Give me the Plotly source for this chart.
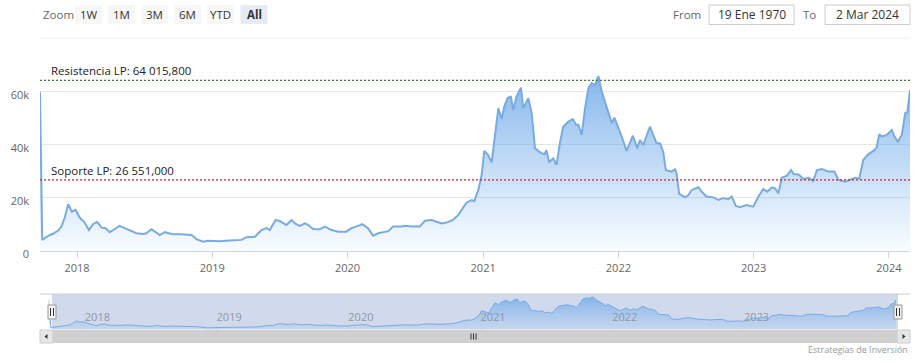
import plotly.graph_objects as go

# ---------------- data ----------------
dates = [
    "2017-09-23", "2017-09-29", "2017-10-15", "2017-10-28", "2017-11-11", "2017-11-20", "2017-11-29",
    "2017-12-08", "2017-12-18", "2017-12-28", "2018-01-08", "2018-01-20", "2018-02-02", "2018-02-13",
    "2018-02-24", "2018-03-08", "2018-03-19", "2018-03-30", "2018-04-13", "2018-04-26", "2018-05-10",
    "2018-05-28", "2018-06-10", "2018-06-28", "2018-07-07", "2018-07-21", "2018-08-03", "2018-08-12",
    "2018-08-26", "2018-09-13", "2018-10-10", "2018-11-06", "2018-11-19", "2018-12-07", "2018-12-21",
    "2019-01-08", "2019-01-21", "2019-02-17", "2019-03-21", "2019-04-03", "2019-04-26", "2019-05-14",
    "2019-05-27", "2019-06-05", "2019-06-21", "2019-07-02", "2019-07-20", "2019-08-03", "2019-08-14",
    "2019-08-25", "2019-09-08", "2019-09-17", "2019-09-30", "2019-10-18", "2019-11-01", "2019-11-19",
    "2019-12-07", "2019-12-29", "2020-01-11", "2020-01-24", "2020-02-10", "2020-02-25", "2020-03-10",
    "2020-03-24", "2020-04-06", "2020-04-20", "2020-05-03", "2020-05-26", "2020-06-04", "2020-06-22",
    "2020-07-14", "2020-07-28", "2020-08-15", "2020-08-28", "2020-09-11", "2020-09-24", "2020-10-12",
    "2020-10-26", "2020-11-08", "2020-11-17", "2020-12-01", "2020-12-08", "2020-12-19", "2020-12-28",
    "2021-01-04", "2021-01-13", "2021-01-24", "2021-02-02", "2021-02-11", "2021-02-20", "2021-02-27",
    "2021-03-08", "2021-03-17", "2021-03-23", "2021-04-01", "2021-04-13", "2021-04-19", "2021-05-03",
    "2021-05-12", "2021-05-21", "2021-06-03", "2021-06-15", "2021-06-21", "2021-06-28", "2021-07-09",
    "2021-07-18", "2021-07-27", "2021-08-05", "2021-08-19", "2021-08-31", "2021-09-09", "2021-09-15",
    "2021-09-24", "2021-10-03", "2021-10-12", "2021-10-21", "2021-10-30", "2021-11-08", "2021-11-17",
    "2021-11-30", "2021-12-14", "2021-12-21", "2021-12-29", "2022-01-10", "2022-01-23", "2022-02-09",
    "2022-02-21", "2022-02-28", "2022-03-09", "2022-03-27", "2022-04-14", "2022-04-23", "2022-05-02",
    "2022-05-09", "2022-05-25", "2022-06-03", "2022-06-07", "2022-06-14", "2022-06-30", "2022-07-09",
    "2022-07-18", "2022-08-05", "2022-08-14", "2022-08-27", "2022-09-14", "2022-09-28", "2022-10-11",
    "2022-10-25", "2022-11-03", "2022-11-14", "2022-11-25", "2022-12-13", "2022-12-31", "2023-01-14",
    "2023-01-27", "2023-02-07", "2023-02-19", "2023-02-28", "2023-03-09", "2023-03-18", "2023-04-01",
    "2023-04-12", "2023-04-19", "2023-05-02", "2023-05-16", "2023-05-29", "2023-06-11", "2023-06-21",
    "2023-07-04", "2023-07-22", "2023-08-07", "2023-08-18", "2023-09-05", "2023-09-19", "2023-10-02",
    "2023-10-13", "2023-10-24", "2023-11-07", "2023-11-20", "2023-11-29", "2023-12-06", "2023-12-13",
    "2023-12-26", "2024-01-09", "2024-01-16", "2024-01-25", "2024-02-05", "2024-02-14", "2024-02-20",
    "2024-02-27",
]
prices = [
    59800, 4000, 5500, 6300, 7500, 9000, 12500,
    17400, 14600, 15300, 12400, 10800, 7700, 9900,
    10800, 8600, 8400, 6900, 8100, 9300, 8400,
    7300, 6500, 6200, 6500, 8000, 6700, 5800,
    6900, 6200, 6100, 5800, 4300, 3300, 3700,
    3700, 3500, 3800, 4000, 5000, 5200, 7700,
    8400, 7700, 11500, 11100, 9600, 11400, 10000,
    9300, 10200, 9600, 8100, 8000, 9000, 7700,
    7100, 7100, 8400, 9000, 9900, 8400, 5600,
    6500, 6900, 7300, 9000, 9000, 9300, 9000,
    9000, 11200, 11500, 10800, 10200, 10500, 11500,
    13400, 15900, 18000, 19000, 18600, 22800, 28400,
    37500, 36200, 33200, 44100, 53600, 49500, 54200,
    57500, 57900, 52900, 57900, 61300, 53600, 57300,
    51700, 38500, 37000, 36200, 37800, 33200, 34700,
    32200, 40400, 46600, 48500, 49500, 47300, 47300,
    43500, 53600, 61100, 63000, 62300, 65700, 59800,
    54200, 47900, 50000, 47300, 42900, 37500, 43200,
    38500, 41600, 39700, 46600, 40400, 40400, 37200,
    30300, 29700, 30600, 29100, 21300, 20000, 20900,
    22800, 23800, 22100, 20300, 20000, 19000, 19700,
    19400, 20300, 16800, 16300, 17100, 16500, 20300,
    23200, 22100, 23800, 23400, 21500, 27400, 28200,
    30300, 28800, 28600, 26900, 27400, 26200, 30300,
    30700, 29700, 29700, 26600, 25900, 26600, 27400,
    27100, 34100, 36300, 37500, 38700, 43800, 42900,
    43500, 45400, 42900, 41000, 43500, 51700, 52100,
    60400,
]

resistance_level = 64015.8
support_level = 26551.0
resistance_text = "Resistencia LP: 64 015,800"
support_text = "Soporte LP: 26 551,000"
y_tick_values = [0, 20000, 40000, 60000]
y_tick_labels = ["0", "20k", "40k", "60k"]
range_buttons = ["1W", "1M", "3M", "6M", "YTD", "All"]
selected_button = "All"
from_date_text = "19 Ene 1970"
to_date_text = "2 Mar 2024"
credits_text = "Estrategias de Inversión"

# ---------------- layout helpers (pixels -> paper) ----------------
W, H = 924, 363
FONT = "Open Sans"


def px(x):
    return x / W


def py(y):
    return 1 - y / H


LINE_COLOR = "#79abe2"

fig = go.Figure()

fig.add_trace(go.Scatter(
    x=dates, y=prices, mode="lines",
    line=dict(color=LINE_COLOR, width=2),
    fill="tozeroy",
    fillgradient=dict(type="vertical",
                      colorscale=[[0, "rgba(124,181,236,0.05)"],
                                  [1, "rgba(112,170,232,0.85)"]]),
    hoverinfo="x+y", showlegend=False,
    xaxis="x", yaxis="y",
))

fig.add_trace(go.Scatter(
    x=dates, y=prices, mode="lines",
    line=dict(color=LINE_COLOR, width=1),
    fill="tozeroy",
    fillgradient=dict(type="vertical",
                      colorscale=[[0, "rgba(124,181,236,0.12)"],
                                  [1, "rgba(112,170,232,0.8)"]]),
    hoverinfo="skip", showlegend=False,
    xaxis="x2", yaxis="y2",
))

fig.update_layout(
    width=W, height=H, autosize=False,
    margin=dict(l=0, r=0, t=0, b=0, pad=0, autoexpand=False),
    paper_bgcolor="white", plot_bgcolor="white",
    font=dict(family=FONT, size=11, color="#666666"),
    showlegend=False,
    xaxis=dict(
        domain=[px(40), px(910)],
        range=[dates[0], dates[-1]],
        type="date", automargin=False,
        tick0="2018-01-01", dtick="M12", tickformat="%Y",
        ticks="outside", ticklen=6, tickcolor="#ccd6eb",
        ticklabelstandoff=1,
        showgrid=False, showline=True, linecolor="#ccd6eb", linewidth=1,
        zeroline=False,
        tickfont=dict(size=11, color="#666666"),
        anchor="y",
    ),
    yaxis=dict(
        domain=[py(250.5), py(38)],
        range=[0, 80000], automargin=False,
        tickvals=y_tick_values, ticktext=y_tick_labels,
        showgrid=True, gridcolor="#e6e6e6", gridwidth=1,
        zeroline=False, showline=False, ticks="",
        ticklabelstandoff=10, ticklabelshift=4,
        tickfont=dict(size=11, color="#666666"),
        anchor="x",
    ),
    xaxis2=dict(
        domain=[px(48.7), px(896.3)],
        range=[dates[0], dates[-1]],
        type="date", automargin=False,
        tick0="2018-01-01", dtick="M12", tickformat="%Y",
        ticks="", ticklabelposition="inside right",
        showgrid=True, gridcolor="#d5d9e2", gridwidth=1,
        showline=False, zeroline=False,
        tickfont=dict(size=11, color="#8f97a8"),
        anchor="y2",
    ),
    yaxis2=dict(
        domain=[py(329.5), py(294)],
        range=[0, 71000], automargin=False,
        showgrid=False, showticklabels=False, zeroline=False, ticks="",
        anchor="x2",
    ),
)

shapes = []
annotations = []

shapes.append(dict(type="line", xref="paper", yref="paper",
                   x0=px(40), x1=px(910), y0=py(38), y1=py(38),
                   line=dict(color="#eeeeee", width=1), layer="below"))

for level, color, text in [(resistance_level, "#3d7a2e", resistance_text),
                           (support_level, "#b03030", support_text)]:
    shapes.append(dict(type="line", xref="x domain", yref="y",
                       x0=0, x1=1, y0=level, y1=level,
                       line=dict(color=color, width=1.2, dash="2px,2px"),
                       layer="above"))
    annotations.append(dict(xref="paper", yref="y", x=px(49), y=level,
                            text=text, showarrow=False, xanchor="left",
                            yanchor="bottom", yshift=0,
                            font=dict(family=FONT, size=11.5, color="#222222")))

annotations.append(dict(xref="paper", yref="paper", x=px(41), y=py(15),
                        text="Zoom", showarrow=False, xanchor="left",
                        yanchor="middle",
                        font=dict(family=FONT, size=11.5, color="#666666")))
bx0, bw, bstep = 75, 27, 33.1
for i, lab in enumerate(range_buttons):
    x0 = bx0 + i * bstep
    sel = lab == selected_button
    shapes.append(dict(type="rect", xref="paper", yref="paper",
                       x0=px(x0), x1=px(x0 + bw), y0=py(24), y1=py(5),
                       fillcolor="#e6ebf5" if sel else "#f7f7f7",
                       line=dict(width=0)))
    annotations.append(dict(xref="paper", yref="paper", x=px(x0 + bw / 2),
                            y=py(15), text=f"<b>{lab}</b>" if sel else lab,
                            showarrow=False, xanchor="center", yanchor="middle",
                            font=dict(family=FONT, size=11.5, color="#333333")))

annotations.append(dict(xref="paper", yref="paper", x=px(703), y=py(15),
                        text="From", showarrow=False, xanchor="right",
                        yanchor="middle",
                        font=dict(family=FONT, size=11.5, color="#666666")))
annotations.append(dict(xref="paper", yref="paper", x=px(818), y=py(15),
                        text="To", showarrow=False, xanchor="right",
                        yanchor="middle",
                        font=dict(family=FONT, size=11.5, color="#666666")))
for (x0, x1, txt) in [(709, 794, from_date_text), (825, 910, to_date_text)]:
    shapes.append(dict(type="rect", xref="paper", yref="paper",
                       x0=px(x0), x1=px(x1), y0=py(24.5), y1=py(5),
                       fillcolor="white", line=dict(color="#cccccc", width=1)))
    annotations.append(dict(xref="paper", yref="paper", x=px((x0 + x1) / 2),
                            y=py(15), text=txt, showarrow=False,
                            xanchor="center", yanchor="middle",
                            font=dict(family=FONT, size=12, color="#333333")))

shapes.append(dict(type="rect", xref="paper", yref="paper",
                   x0=px(52), x1=px(898), y0=py(329.5), y1=py(294),
                   fillcolor="rgba(102,133,194,0.3)", line=dict(width=0),
                   layer="below"))
shapes.append(dict(type="line", xref="paper", yref="paper",
                   x0=px(40), x1=px(910), y0=py(294), y1=py(294),
                   line=dict(color="#cccccc", width=1)))
for hx in (52, 898):
    shapes.append(dict(type="rect", xref="paper", yref="paper",
                       x0=px(hx - 4), x1=px(hx + 4), y0=py(319), y1=py(305),
                       fillcolor="#f2f2f2", line=dict(color="#999999", width=1),
                       layer="above"))
    for dx in (-1.5, 1.5):
        shapes.append(dict(type="line", xref="paper", yref="paper",
                           x0=px(hx + dx), x1=px(hx + dx), y0=py(316), y1=py(308),
                           line=dict(color="#333333", width=1), layer="above"))

shapes.append(dict(type="rect", xref="paper", yref="paper",
                   x0=px(40), x1=px(910), y0=py(343), y1=py(330),
                   fillcolor="#cfcfcf", line=dict(width=0)))
for bx in (40, 897):
    shapes.append(dict(type="rect", xref="paper", yref="paper",
                       x0=px(bx), x1=px(bx + 13), y0=py(343), y1=py(330),
                       fillcolor="#e6e6e6", line=dict(color="#cccccc", width=1)))
shapes.append(dict(type="path", xref="paper", yref="paper",
                   path=f"M {px(44.5)} {py(336.5)} L {px(47.5)} {py(334)} L {px(47.5)} {py(339)} Z",
                   fillcolor="#333333", line=dict(width=0)))
shapes.append(dict(type="path", xref="paper", yref="paper",
                   path=f"M {px(905.5)} {py(336.5)} L {px(902.5)} {py(334)} L {px(902.5)} {py(339)} Z",
                   fillcolor="#333333", line=dict(width=0)))
for gx in (471, 473.5, 476):
    shapes.append(dict(type="line", xref="paper", yref="paper",
                       x0=px(gx), x1=px(gx), y0=py(339.5), y1=py(333.5),
                       line=dict(color="#333333", width=1)))

annotations.append(dict(xref="paper", yref="paper", x=px(910), y=py(349),
                        text=credits_text, showarrow=False, xanchor="right",
                        yanchor="middle",
                        font=dict(family=FONT, size=9, color="#999999")))

fig.update_layout(shapes=shapes, annotations=annotations)

fig.write_html(
    "out.html",
    config={"displayModeBar": False, "responsive": False},
    post_script=(
        "document.documentElement.style.margin='0';"
        "document.documentElement.style.padding='0';"
        "document.documentElement.style.overflow='hidden';"
        "document.documentElement.style.height='363px';"
        "document.body.style.margin='0';"
        "document.body.style.padding='0';"
        "document.body.style.overflow='hidden';"
        "document.body.style.height='363px';"
    ),
)
